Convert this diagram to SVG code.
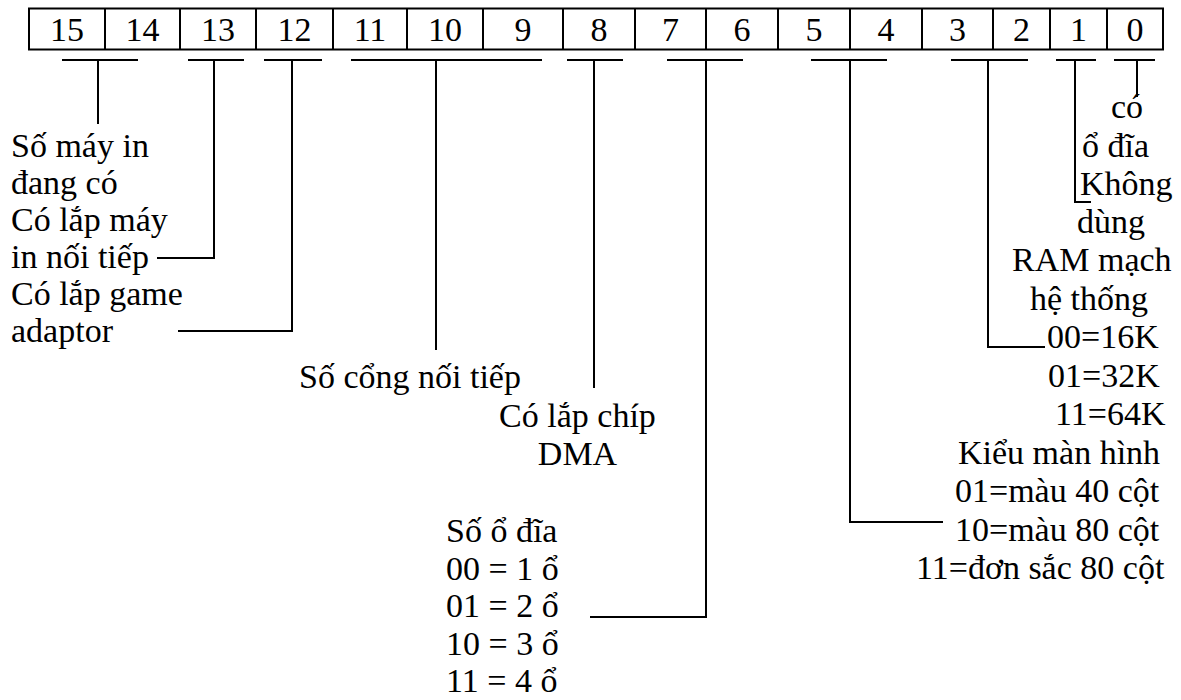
<svg xmlns="http://www.w3.org/2000/svg" width="1181" height="700" viewBox="0 0 1181 700">
<style>
text{font-family:"Liberation Serif","Times New Roman","DejaVu Serif",serif;font-size:34px;fill:#000}
.c{text-anchor:middle}
.ln{stroke:#000;stroke-width:2;fill:none}
</style>
<rect width="1181" height="700" fill="#fff"/>
<g id="register">
<rect class="ln" x="29" y="8.5" width="1134" height="41"/>
<path class="ln" d="M105 8.5V49.5M180 8.5V49.5M256 8.5V49.5M333 8.5V49.5M407 8.5V49.5M483 8.5V49.5M563 8.5V49.5M635 8.5V49.5M706 8.5V49.5M778 8.5V49.5M850 8.5V49.5M922 8.5V49.5M993 8.5V49.5M1050 8.5V49.5M1107 8.5V49.5"/>
<text class="c" x="67" y="41">15</text>
<text class="c" x="142.5" y="41">14</text>
<text class="c" x="218" y="41">13</text>
<text class="c" x="294.5" y="41">12</text>
<text class="c" x="370" y="41">11</text>
<text class="c" x="445" y="41">10</text>
<text class="c" x="523" y="41">9</text>
<text class="c" x="599" y="41">8</text>
<text class="c" x="670.5" y="41">7</text>
<text class="c" x="742" y="41">6</text>
<text class="c" x="814" y="41">5</text>
<text class="c" x="886" y="41">4</text>
<text class="c" x="957.5" y="41">3</text>
<text class="c" x="1021.5" y="41">2</text>
<text class="c" x="1078.5" y="41">1</text>
<text class="c" x="1135" y="41">0</text>
</g>
<g id="connectors">
<path class="ln" d="M62 60H138M98 60V124"/>
<path class="ln" d="M188 60H244M214 60V258H157"/>
<path class="ln" d="M264 60H322M292 60V331H178"/>
<path class="ln" d="M351 60H542M436 60V350"/>
<path class="ln" d="M567 60H623M594 60V388"/>
<path class="ln" d="M667 60H743M706 60V617H590"/>
<path class="ln" d="M811 60H887M850 60V522H943"/>
<path class="ln" d="M951 60H1028M988 60V347H1045"/>
<path class="ln" d="M1056 60H1096M1075 60V202H1091"/>
<path class="ln" d="M1114 60H1155M1137 60V97"/>
</g>
<g id="label-printers">
<text x="11" y="157">Số máy in</text>
<text x="11" y="194">đang có</text>
</g>
<g id="label-serial-printer">
<text x="11" y="231">Có lắp máy</text>
<text x="11" y="268">in nối tiếp</text>
</g>
<g id="label-game-adaptor">
<text x="11" y="305">Có lắp game</text>
<text x="11" y="342">adaptor</text>
</g>
<g id="label-serial-ports">
<text x="299" y="388">Số cổng nối tiếp</text>
</g>
<g id="label-dma">
<text class="c" x="577.5" y="427">Có lắp chíp</text>
<text class="c" x="577.5" y="465">DMA</text>
</g>
<g id="label-drives">
<text x="446" y="542">Số ổ đĩa</text>
<text x="446" y="580">00 = 1 ổ</text>
<text x="446" y="617">01 = 2 ổ</text>
<text x="446" y="655">10 = 3 ổ</text>
<text x="446" y="692">11 = 4 ổ</text>
</g>
<g id="label-disk">
<text x="1111" y="118">có</text>
<text x="1082" y="157">ổ đĩa</text>
</g>
<g id="label-unused">
<text x="1080" y="195">Không</text>
<text x="1077" y="233">dùng</text>
</g>
<g id="label-ram">
<text x="1012" y="271">RAM mạch</text>
<text x="1030" y="310">hệ thống</text>
<text x="1047" y="348">00=16K</text>
<text x="1048" y="387">01=32K</text>
<text x="1055" y="425">11=64K</text>
</g>
<g id="label-video">
<text x="958" y="464">Kiểu màn hình</text>
<text x="955" y="502">01=màu 40 cột</text>
<text x="955" y="541">10=màu 80 cột</text>
<text x="916" y="579">11=đơn sắc 80 cột</text>
</g>
</svg>
